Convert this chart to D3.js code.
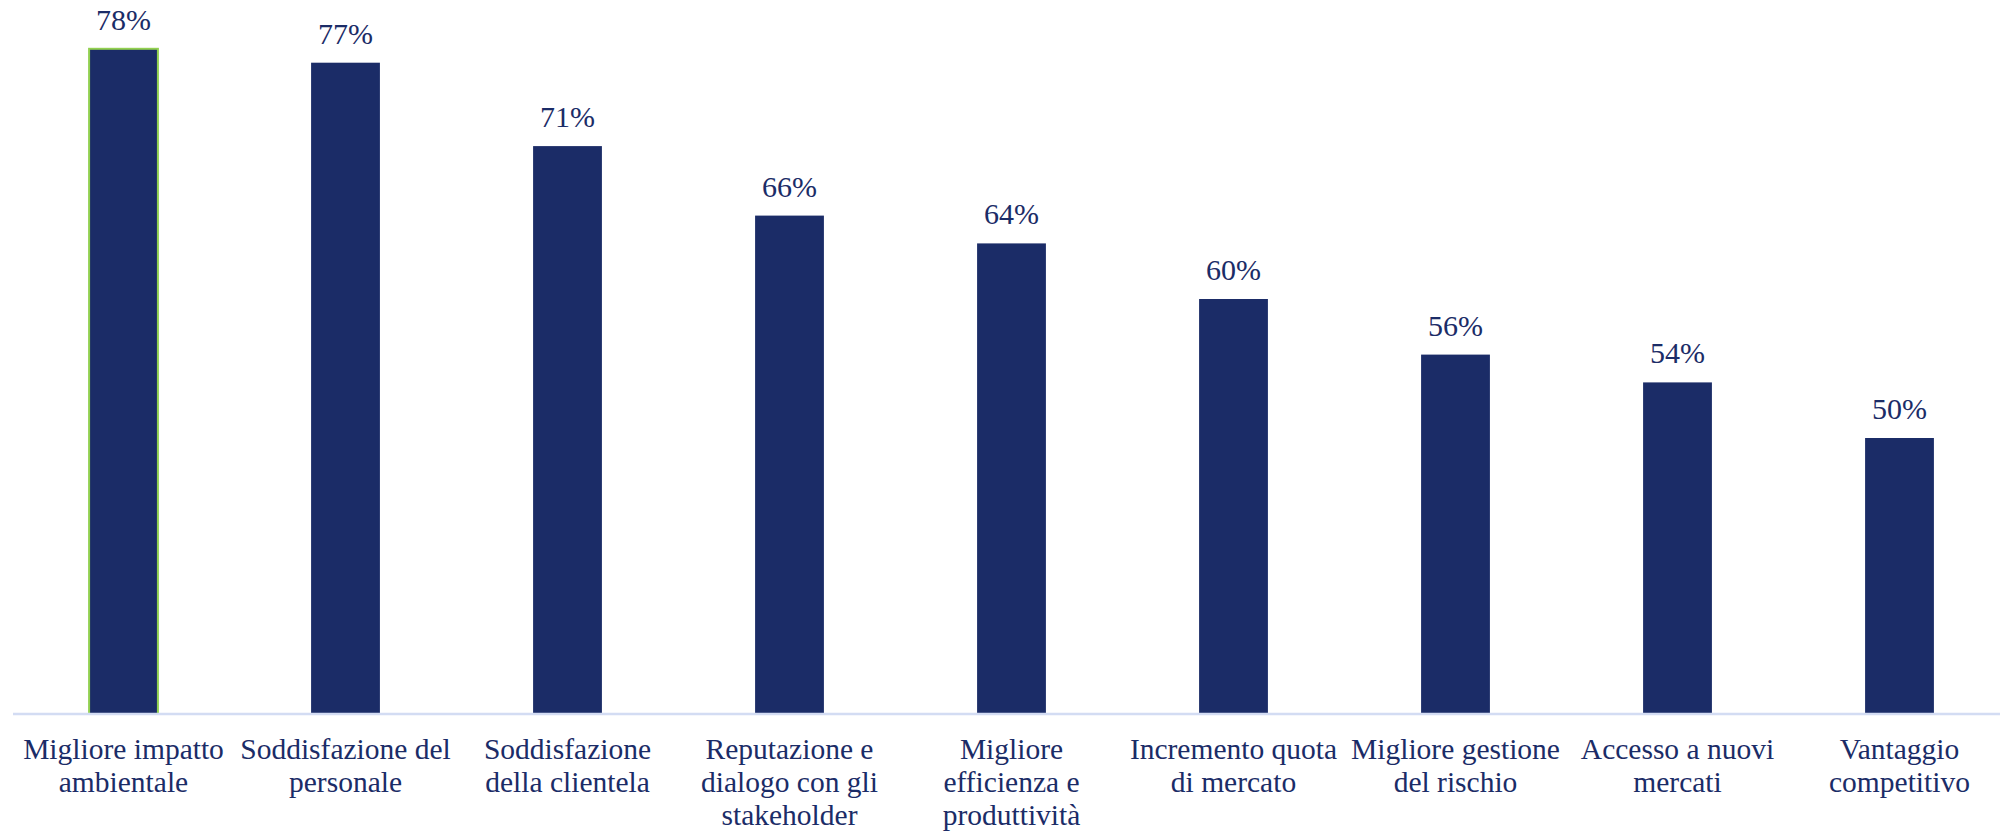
<!DOCTYPE html>
<html>
<head>
<meta charset="utf-8">
<script src="https://cdn.jsdelivr.net/npm/d3@7"></script>
<style>
  html, body { margin: 0; padding: 0; background: #ffffff; }
  svg { display: block; }
  svg text { font-family: "Liberation Serif", "Times New Roman", Times, "DejaVu Serif", serif; }
</style>
</head>
<body>
<script>
// ---- data ----
const categories = [
  "Migliore impatto\nambientale",
  "Soddisfazione del\npersonale",
  "Soddisfazione\ndella clientela",
  "Reputazione e\ndialogo con gli\nstakeholder",
  "Migliore\nefficienza e\nproduttività",
  "Incremento quota\ndi mercato",
  "Migliore gestione\ndel rischio",
  "Accesso a nuovi\nmercati",
  "Vantaggio\ncompetitivo"
];
const values = [78, 77, 71, 66, 64, 60, 56, 54, 50];
const valueLabels = ["78%", "77%", "71%", "66%", "64%", "60%", "56%", "54%", "50%"];
const yDomain = [30, 80];
const highlighted = [0];

// ---- layout ----
const W = 2000, H = 833;
const baseY = 714;
const navy = "#1b2c67";

const svg = d3.select("body").append("svg")
  .attr("width", W).attr("height", H);

const x = d3.scaleBand()
  .domain(d3.range(categories.length))
  .range([12.5, 2010.5])
  .paddingInner(0.69)
  .paddingOuter(0.345);

const y = d3.scaleLinear()
  .domain(yDomain)
  .range([716, 21]);

// bars
svg.append("g").selectAll("rect")
  .data(values)
  .join("rect")
  .attr("x", (d, i) => x(i))
  .attr("y", d => y(d))
  .attr("width", x.bandwidth())
  .attr("height", d => baseY - y(d))
  .attr("fill", navy)
  .attr("stroke", (d, i) => highlighted.includes(i) ? "#92d050" : "none")
  .attr("stroke-width", 2);

// axis baseline
const xAxis = d3.axisBottom(x).tickSize(0).tickFormat("");
const axisG = svg.append("g")
  .attr("transform", `translate(0,${baseY})`)
  .call(xAxis);
axisG.select(".domain").remove();
axisG.append("line")
  .attr("x1", 13).attr("x2", 2000)
  .attr("y1", 0).attr("y2", 0)
  .attr("stroke", "#d3dcf3")
  .attr("stroke-width", 2.5);

// value labels
svg.append("g").selectAll("text")
  .data(values)
  .join("text")
  .attr("x", (d, i) => x(i) + x.bandwidth() / 2)
  .attr("y", d => y(d) - 19)
  .attr("text-anchor", "middle")
  .style("font-size", "30px")
  .attr("fill", navy)
  .text((d, i) => valueLabels[i]);

// category labels
const catG = svg.append("g").selectAll("text")
  .data(categories)
  .join("text")
  .attr("x", (d, i) => x(i) + x.bandwidth() / 2)
  .attr("y", 759)
  .attr("text-anchor", "middle")
  .style("font-size", "29.5px")
  .attr("fill", navy);

catG.each(function(d, i) {
  const t = d3.select(this);
  const cx = x(i) + x.bandwidth() / 2;
  d.split("\n").forEach((line, k) => {
    t.append("tspan")
      .attr("x", cx)
      .attr("dy", k === 0 ? 0 : 33)
      .text(line);
  });
});
</script>
</body>
</html>
